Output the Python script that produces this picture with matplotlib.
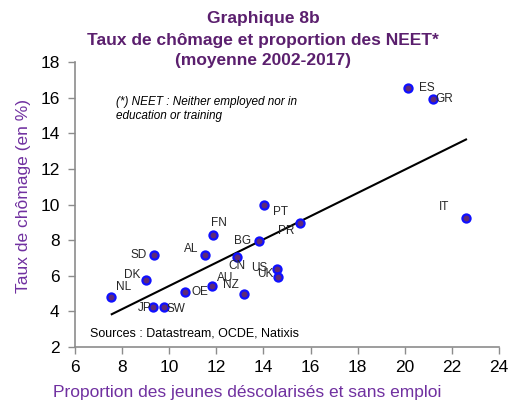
import matplotlib
matplotlib.use("Agg")
import matplotlib.pyplot as plt

plt.rcParams['font.family'] = ['Liberation Sans', 'DejaVu Sans']

# Data
countries = ["NL", "DK", "SD", "JP", "SW", "OE", "AL", "FN", "AU", "NZ",
             "CN", "BG", "PT", "PR", "US", "UK", "ES", "GR", "IT"]
neet = [7.53, 9.00, 9.37, 9.30, 9.78, 10.67, 11.52, 11.87, 11.83, 13.16,
        12.89, 13.82, 14.01, 15.56, 14.57, 14.63, 20.12, 21.18, 22.58]
unemployment = [4.82, 5.76, 7.14, 4.23, 4.25, 5.06, 7.17, 8.27, 5.40, 5.00,
                7.07, 7.93, 10.00, 8.95, 6.36, 5.93, 16.55, 15.93, 9.25]
trend_x = [7.56, 22.6]
trend_y = [3.84, 13.65]
xticks = [6, 8, 10, 12, 14, 16, 18, 20, 22, 24]
yticks = [2, 4, 6, 8, 10, 12, 14, 16, 18]

# label offsets in pixels (dx right, dy up)
label_offsets = {
    "NL": (13, 9.5), "DK": (-13, 5), "SD": (-16, 0), "JP": (-8, -1),
    "SW": (12, -2), "OE": (15, 0), "AL": (-14, 6), "FN": (6, 12),
    "AU": (13, 8), "NZ": (-13, 9), "CN": (0, -9), "BG": (-17, 0),
    "PT": (17, -7), "PR": (-14, -8), "US": (-18, 1), "UK": (-13, 3),
    "ES": (19, 0), "GR": (12, 0), "IT": (-21, 11),
}

title_color = "#5b1f6e"
label_color = "#7030a0"
spine_color = "#8c8c8c"

fig = plt.figure(figsize=(5.11, 4.0), dpi=100)
ax = fig.add_axes([75 / 511, 1 - 347 / 400, 424 / 511, 285 / 400])

ax.plot(trend_x, trend_y, color="black", lw=1.5, zorder=2)
ax.scatter(neet, unemployment, s=34, facecolor="#5e2a78", edgecolor="#1010ff",
           linewidths=1.6, zorder=3)
for c, x, y in zip(countries, neet, unemployment):
    dx, dy = label_offsets[c]
    ax.annotate(c, (x, y), xytext=(dx, dy), textcoords="offset pixels",
                ha="center", va="center", fontsize=8.5, color="#262626", zorder=4)

ax.set_xlim(6, 24)
ax.set_ylim(2, 18)
ax.set_xticks(xticks)
ax.set_yticks(yticks)
ax.tick_params(axis="both", direction="out", length=5, color=spine_color,
               labelsize=12.5, labelcolor="black", width=1)
ax.tick_params(axis="y", pad=6)
ax.tick_params(axis="x", pad=4)
for s in ["top", "right"]:
    ax.spines[s].set_visible(False)
for s in ["left", "bottom"]:
    ax.spines[s].set_color(spine_color)
    ax.spines[s].set_linewidth(1.2)

ax.text(116 / 511, 1 - 109 / 400, "(*) NEET : Neither employed nor in\neducation or training",
        transform=fig.transFigure, fontsize=8.5, style="italic", color="black",
        ha="left", va="center", linespacing=1.25)
ax.text(90 / 511, 1 - 334 / 400, "Sources : Datastream, OCDE, Natixis",
        transform=fig.transFigure, fontsize=9, color="black", ha="left", va="center")

ax.set_ylabel("Taux de chômage (en %)", fontsize=12.5, color=label_color)
ax.yaxis.set_label_coords((31 - 75) / 424, 0.53)
fig.text(247 / 511, 1 - 393 / 400, "Proportion des jeunes déscolarisés et sans emploi",
         fontsize=12.5, color=label_color, ha="center", va="center")

for yy, t in zip([19, 40, 61], ["Graphique 8b", "Taux de chômage et proportion des NEET*",
                                "(moyenne 2002-2017)"]):
    fig.text(263 / 511, 1 - yy / 400, t, fontsize=12.5, fontweight="bold",
             color=title_color, ha="center", va="center")

fig.savefig("out.png", dpi=100)
